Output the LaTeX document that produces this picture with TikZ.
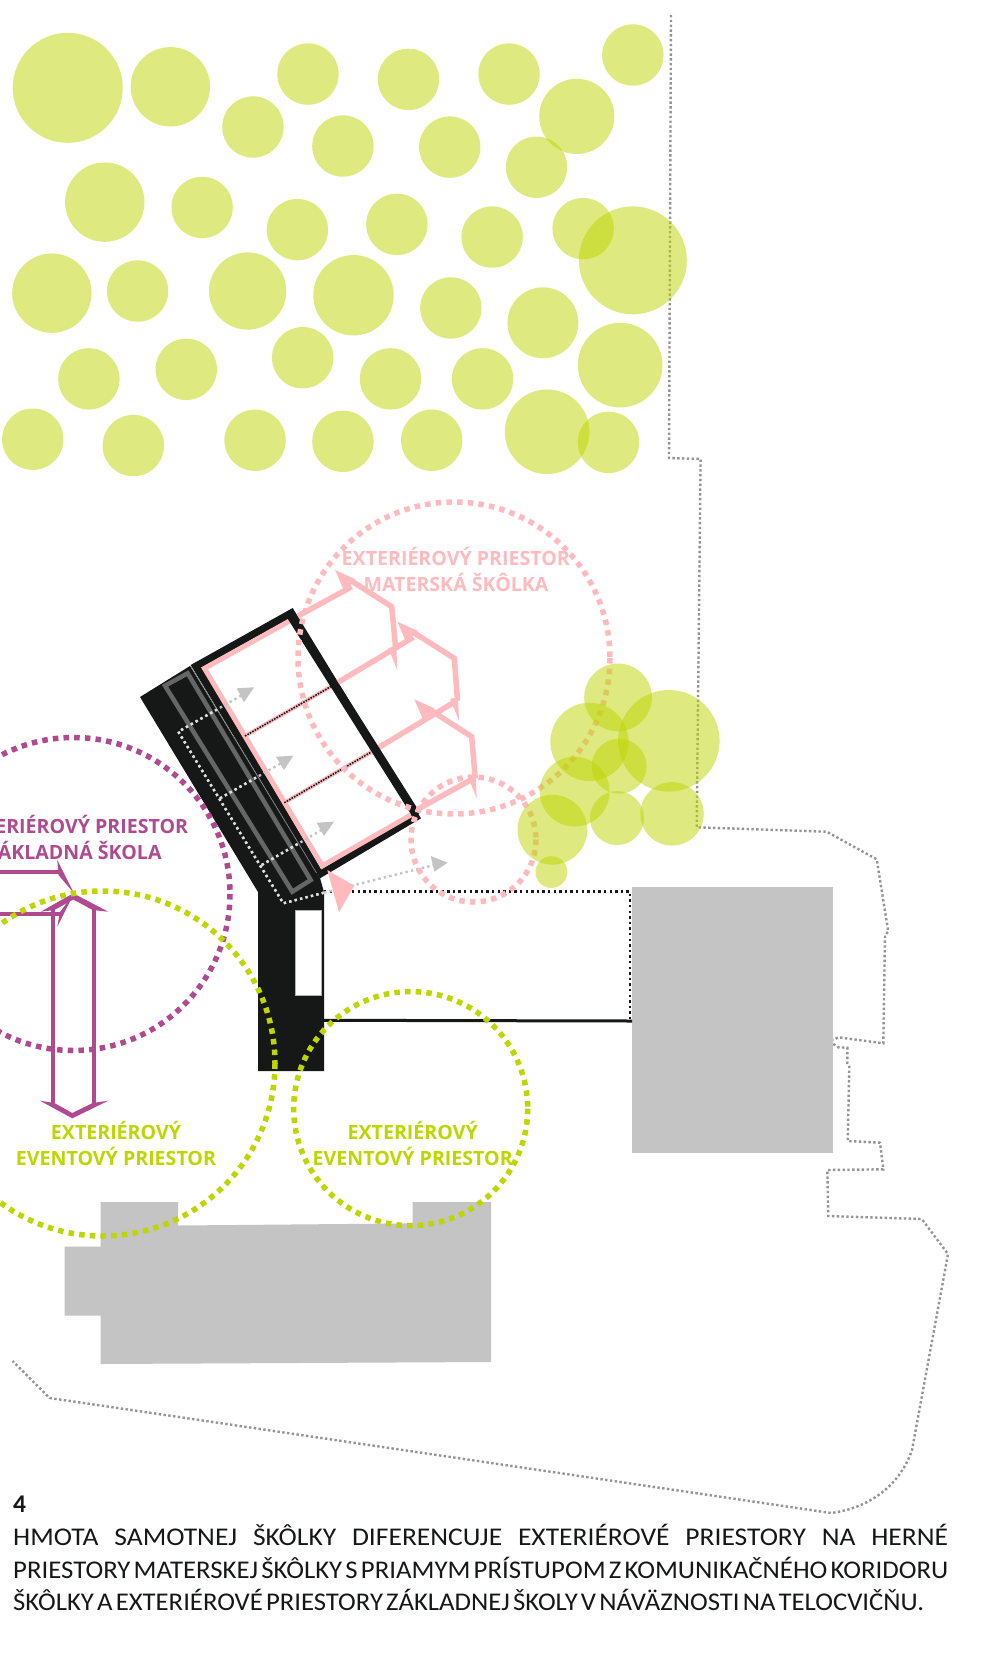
\documentclass[tikz,border=0pt]{standalone}
\usepackage{fontspec}
\setmainfont{Open Sans}
\newfontfamily\capfont{Carlito}
\definecolor{treeg}{RGB}{190,214,0}
\definecolor{pinkc}{RGB}{255,186,190}
\definecolor{magc}{RGB}{175,74,145}
\definecolor{blk}{RGB}{22,24,23}
\definecolor{bldg}{RGB}{196,196,196}
\definecolor{walk}{RGB}{196,196,196}
\definecolor{walkb}{RGB}{222,222,222}
\tikzset{
 treefill/.style={fill=treeg,fill opacity=0.5},
 zone/.style={line width=5.5pt,dash pattern=on 5.5pt off 5.2pt},
 pinkline/.style={draw=pinkc,line width=5.5pt,miter limit=20},
 magline/.style={draw=magc,line width=4pt},
 walkline/.style={line width=2.4pt,dash pattern=on 2.4pt off 3.2pt},
 border/.style={draw=black!42,line width=2.4pt,dash pattern=on 2.4pt off 2.4pt},
 lab/.style={font=\fontsize{19.6}{23}\selectfont\bfseries,inner sep=0pt,anchor=base},
 captext/.style={font=\capfont\fontsize{25.5}{30}\selectfont,inner sep=0pt,anchor=base west,text=blk},
}
\newcommand{\corrpath}{(140,697) -- (190,666) -- (320,878) -- (324,892) -- (324,1071) -- (258,1071) -- (258,892) -- cycle}
\newcommand{\walkpaths}[1]{
 \draw[walkline,#1] (324,892.7) -- (283.3,903.3) -- (178.3,731.7) -- (244,694);
 \draw[walkline,#1] (220,798.3) -- (285,761);
 \draw[walkline,#1] (261.7,865) -- (325,828);
 \draw[walkline,#1] (324,892.7) -- (438,864);
}
\begin{document}
\begin{tikzpicture}[x=1pt,y=-1pt]
\useasboundingbox (0,0) rectangle (980,1659);
\clip (0,0) rectangle (980,1659);
\fill[white] (0,0) rectangle (980,1659);
% site boundary
\draw[border] (671,15) -- (669,458) -- (700.6,459) -- (696.7,827.3) -- (826.7,831.7) -- (876.7,859.3) -- (888.3,931.7) -- (885,935) -- (883.3,1043.3) -- (838.3,1037.3) -- (833.3,1040);
\draw[border] (833.3,1044) -- (838.3,1047.3) -- (847.3,1047.7) -- (847.3,1063.3) -- (849.3,1066.7) -- (847.7,1141) -- (880,1142.7) -- (883.3,1169.3) -- (827.3,1170) -- (828.3,1216) -- (921.7,1219) -- (948,1254) -- (912,1450) .. controls (900,1485) and (870,1508) .. (831,1513) -- (49.7,1398) -- (12.7,1361);
% buildings
\fill[bldg] (632,887) rectangle (833,1153);
\fill[bldg] (100.5,1202) -- (178,1202) -- (178,1225.5) -- (412.7,1223.4) -- (412.7,1202) -- (491,1202) -- (491,1362) -- (100.5,1364) -- (100.5,1315.5) -- (64.5,1315.5) -- (64.5,1246.7) -- (100.5,1246.7) -- cycle;
% forecourt lines
\draw[blk,line width=3pt] (324,1020.3) -- (632,1021);
\draw[blk,walkline,line width=2.6pt] (324,891.7) -- (630,891.7) -- (630,1019);
% corridor
\fill[blk] \corrpath;
\fill[white,draw=black!30,line width=0.8pt] (295.7,910.7) rectangle (321.7,995);
% rooms frame
\fill[blk] (190.7,665) -- (292.7,608) -- (421,818.3) -- (320,878.3) -- cycle;
\fill[white] (202,667.3) -- (291,617.7) -- (412,813.3) -- (321.3,869.3) -- cycle;
\draw[draw=pinkc,line width=5pt,miter limit=10] (291,620.2) -- (204.5,668.4) -- (322.3,865.8) -- (411,814.8);
\draw[black!50,line width=0.7pt] (190.5,666) -- (316.5,873);
% grey inner rectangle
\draw[black!60,line width=4.5pt] (165,685.7) -- (187.7,673.3) -- (310.7,880) -- (292.3,891.7) -- cycle;
% circulation
\walkpaths{walk}
\begin{scope}
 \clip \corrpath;
 \walkpaths{walkb}
\end{scope}
\fill[walk] (236.7,688.3) -- (254,687.3) -- (244,702.3) -- cycle;
\fill[walk] (276,756.7) -- (293.3,755.7) -- (284,770) -- cycle;
\fill[walk] (316.7,822.7) -- (334,821.7) -- (324,836) -- cycle;
\fill[walk] (430.7,856) -- (447.7,862.7) -- (434.3,871.7) -- cycle;
% pink exits
\draw[pinkline] (298,616) -- (351.7,586.7);
\draw[pinkline,line width=4pt] (245,736) -- (331,686.5);
\draw[pinkline] (331,686.5) -- (413.3,637.3);
\draw[pinkline,line width=4pt] (284.3,802.7) -- (370.7,752.3);
\draw[pinkline] (370.7,752.3) -- (453.3,702.7);
\draw[pinkline] (415,810.7) -- (470.7,780);
\draw[blk,line width=1.6pt,dash pattern=on 1.6pt off 1.2pt] (245,736) -- (331,686.5);
\draw[blk,line width=1.6pt,dash pattern=on 1.6pt off 1.2pt] (284.3,802.7) -- (370.7,752.3);
% band over exits
\draw[blk,line width=8.5pt] (288.5,612) -- (416.5,815);
\foreach \ax/\ay/\bx/\by/\cx/\cy in {
 335/570/391.7/606.7/397.3/670,
 397.3/621.7/454.3/658.3/459/720.7,
 414.3/699.3/471.7/736.7/476.7/798.3}{
 \draw[pinkline] (\ax+15,\ay+10) -- (\bx,\by) -- (\cx-1.5,\cy-20);
 \fill[pinkc] (\ax,\ay) -- ++(20,9) -- ++(-10.6,12.6) -- cycle;
 \fill[pinkc] (\cx,\cy) -- ++(-9,-22) -- ++(8,-1) -- cycle;
}
\fill[pinkc] (327.3,870) -- (354.3,885.7) -- (339,912.3) -- cycle;
% zones
\draw[zone,pinkc] (454,658) circle (156);
\draw[zone,pinkc] (473.5,839.5) circle (62.5);
% magenta arrows
\draw[magline] (-5,871.7) -- (60,871.7);
\draw[magline] (-5,914) -- (60,914);
\fill[magc] (57.3,860) -- (74,893.3) -- (58.5,875) -- cycle;
\fill[magc] (57.3,926.7) -- (74,893.3) -- (60,912) -- cycle;
\draw[magline] (52.7,906) -- (52.7,1105);
\draw[magline] (94.3,906) -- (94.3,1105);
\fill[magc] (40.7,911.7) -- (73.3,893.3) -- (108.3,911.7) -- (92.6,910) -- (73.3,899.5) -- (54.4,910) -- cycle;
\fill[magc] (40,1100.7) -- (72.3,1118.3) -- (108.3,1100.7) -- (92.6,1103) -- (72.3,1113) -- (54.4,1103) -- cycle;
\draw[zone,magc] (73.5,894) circle (156.5);
\draw[zone,treeg] (102.5,1063.5) circle (172.5);
\draw[zone,treeg] (410.7,1108.6) circle (117);
% trees
\begin{scope}[x=1.0583pt,y=-1.0583pt]
\foreach \cx/\cy/\r in {64/83/52,161/82/37.5,239/120/29,291/70/29,386/75/29,481/70/29,598/52/29,545/110/35.5,324/138/29,425/139/29,507/158/29,99/191/37.5,191/196/29,281/217/29,375/212/29,465/224/29,551/216/29,598/246/51,49/277/37.5,130/275/29,234/275/36.5,334/279/38,426/291/29,513/305/33.5,84/358/29,176/349/29,286/338/29,369/358/29,456/358/29,586/345/40,31/415/29,126/421/29,241/416/29,324/417/29,408/416/29,517/408/40,575/418/29,584/659/32,557/701/37,632/700/48,585/724/26,543/748/33,583/773/25.5,635/769/30,522/784/33,521/824/15}{
 \fill[treefill] (\cx,\cy) circle (\r);
}
\end{scope}
% labels
\node[lab,text=pinkc] (pink1) at (455.8,565.7) {EXTERIÉROVÝ PRIESTOR};
\node[lab,text=pinkc] (pink2) at (456,591.7) {MATERSKÁ ŠKÔLKA};
\node[lab,text=magc] (mag1) at (74,833.3) {EXTERIÉROVÝ PRIESTOR};
\node[lab,text=magc] (mag2) at (74,859.3) {ZÁKLADNÁ ŠKOLA};
\node[lab,text=treeg] (ga1) at (116,1139) {EXTERIÉROVÝ};
\node[lab,text=treeg] (ga2) at (116,1165) {EVENTOVÝ PRIESTOR};
\node[lab,text=treeg] (gb1) at (412.7,1139) {EXTERIÉROVÝ};
\node[lab,text=treeg] (gb2) at (412.7,1165) {EVENTOVÝ PRIESTOR};
% caption
\node[captext] (num) at (13,1512.7) {\bfseries 4};
\node[captext] (l1) at (13,1545) {\resizebox{935pt}{\height}{\makebox[866pt][s]{HMOTA SAMOTNEJ ŠKÔLKY DIFERENCUJE EXTERIÉROVÉ PRIESTORY NA HERNÉ}}};
\node[captext] (l2) at (13,1578) {\resizebox{935pt}{\height}{\spaceskip=0.12em PRIESTORY MATERSKEJ ŠKÔLKY S PRIAMYM PRÍSTUPOM Z KOMUNIKAČNÉHO KORIDORU}};
\node[captext] (l3) at (13,1610.5) {\resizebox{911pt}{\height}{\spaceskip=0.12em ŠKÔLKY A EXTERIÉROVÉ PRIESTORY ZÁKLADNEJ ŠKOLY V NÁVÄZNOSTI NA TELOCVIČŇU.}};
\end{tikzpicture}
\end{document}
